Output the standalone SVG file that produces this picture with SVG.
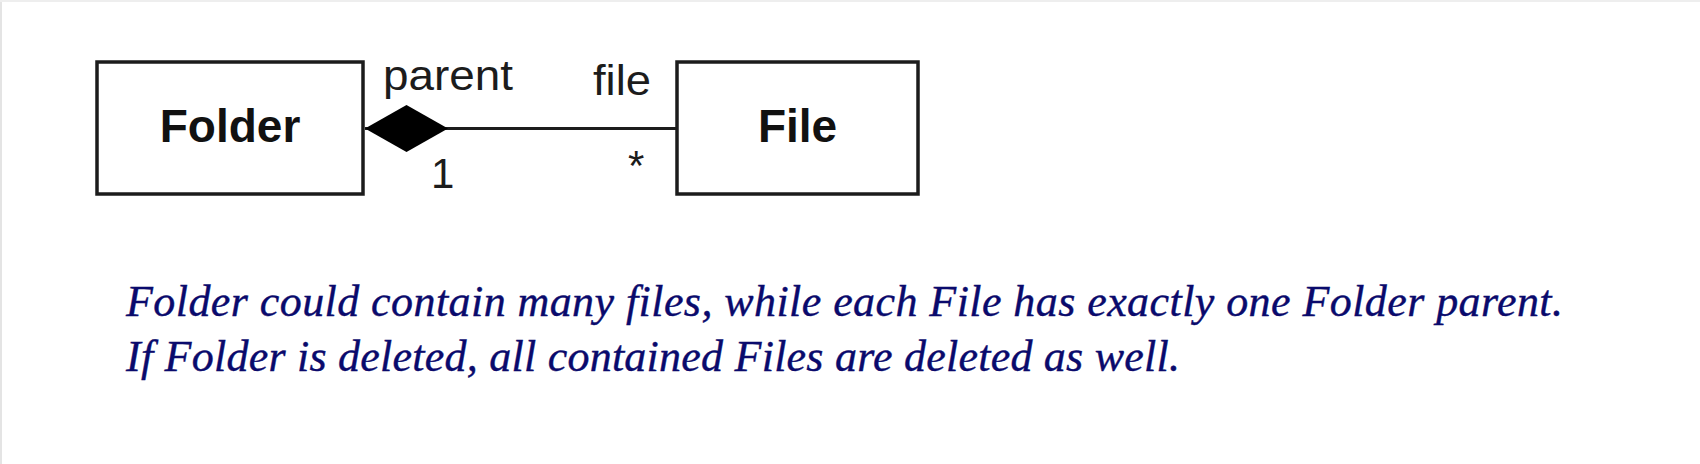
<svg xmlns="http://www.w3.org/2000/svg" width="1700" height="464" viewBox="0 0 1700 464">
  <defs>
    <marker id="composite" markerUnits="userSpaceOnUse" markerWidth="84" markerHeight="48" viewBox="0 0 84 48" refX="0" refY="24" orient="auto">
      <path d="M0,24 L41.5,0.5 L83,24 L41.5,47.5 Z" fill="#000"/>
    </marker>
  </defs>
  <style>
    .box { fill: #fff; stroke: #1c1c1c; stroke-width: 3.5; }
    .name { font-family: "Liberation Sans", Arial, sans-serif; font-weight: bold; font-size: 46px; fill: #111; text-anchor: middle; }
    .role { font-family: "Liberation Sans", Arial, sans-serif; font-size: 42px; fill: #1c1c1c; }
    .edge { stroke: #1c1c1c; stroke-width: 3; fill: none; }
    .note { font-family: "Liberation Serif", "Times New Roman", serif; font-style: italic; font-size: 44px; fill: #0a0a6c; stroke: #0a0a6c; stroke-width: 0.4; }
  </style>
  <rect x="0" y="0" width="1700" height="464" fill="#fff"/>
  <line x1="1" y1="0" x2="1" y2="464" stroke="#e4e4e4" stroke-width="2"/>
  <line x1="0" y1="1" x2="1700" y2="1" stroke="#eeeeee" stroke-width="2"/>

  <g id="connectors">
    <path class="edge" d="M365,128.5 H677" marker-start="url(#composite)"/>
    <text class="role" x="383" y="90" textLength="130" lengthAdjust="spacingAndGlyphs">parent</text>
    <text class="role" x="593" y="95" textLength="58" lengthAdjust="spacingAndGlyphs">file</text>
    <text class="role" x="431" y="188">1</text>
    <text class="role" x="628" y="180">*</text>
  </g>

  <g id="node-folder">
    <rect class="box" x="97" y="62" width="266" height="132"/>
    <text class="name" x="230" y="141.5">Folder</text>
  </g>

  <g id="node-file">
    <rect class="box" x="677" y="62" width="241" height="132"/>
    <text class="name" x="797.5" y="141.5">File</text>
  </g>

  <g id="caption">
    <text class="note" x="126" y="316" textLength="1437">Folder could contain many files, while each File has exactly one Folder parent.</text>
    <text class="note" x="126" y="371" textLength="1054">If Folder is deleted, all contained Files are deleted as well.</text>
  </g>
</svg>
